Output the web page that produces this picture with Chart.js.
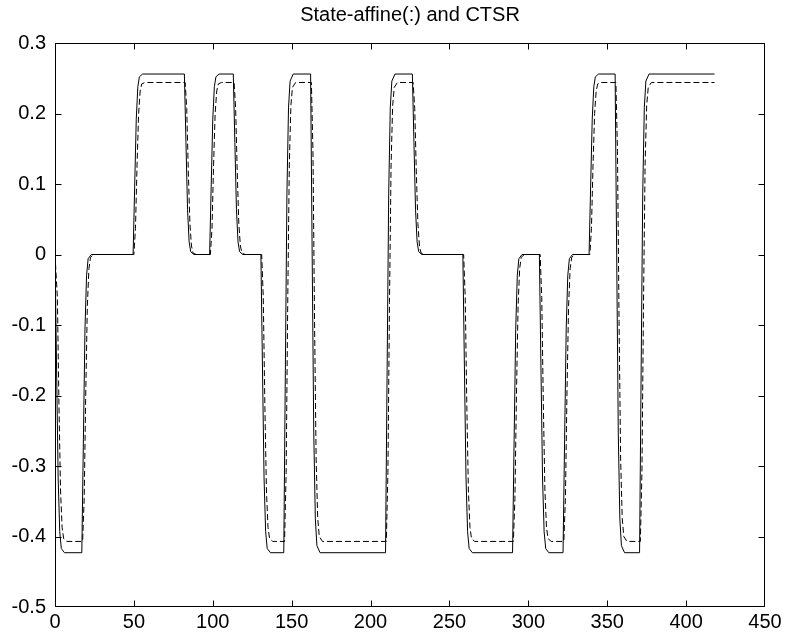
<!DOCTYPE html>
<html>
<head>
<meta charset="utf-8">
<title>State-affine(:) and CTSR</title>
<script src="https://cdn.jsdelivr.net/npm/chart.js@4.4.1/dist/chart.umd.min.js"></script>
<style>
  html, body { margin: 0; padding: 0; background: #fff; }
  #wrap { width: 789px; height: 637px; }
</style>
</head>
<body>
<div id="wrap"><canvas id="plot" width="789" height="637"></canvas></div>
<script>
// tick values
const xTicks = [0, 50, 100, 150, 200, 250, 300, 350, 400, 450];
const yTicks = [-0.5, -0.4, -0.3, -0.2, -0.1, 0, 0.1, 0.2, 0.3];
const yTickLabels = ['-0.5', '-0.4', '-0.3', '-0.2', '-0.1', '0', '0.1', '0.2', '0.3'];

// solid curve (CTSR), [t, value]
const solidPoints = [
    [0, 0], [1, -0.161], [2, -0.317], [3, -0.393], [4, -0.417], [6, -0.423],
    [17, -0.423], [18, -0.262], [19, -0.106], [20, -0.030], [21, -0.006], [23, 0],
    [49.5, 0], [50.5, 0.097], [51.5, 0.192], [52.5, 0.238], [53.5, 0.252], [55.5, 0.256],
    [82, 0.256], [83, 0.159], [84, 0.064], [85, 0.018], [86, 0.004], [88, 0],
    [98, 0], [99, 0.097], [100, 0.192], [101, 0.238], [102, 0.252], [104, 0.256],
    [113, 0.256], [114, 0.159], [115, 0.064], [116, 0.018], [117, 0.004], [119, 0],
    [130.5, 0], [131.5, -0.161], [132.5, -0.317], [133.5, -0.393], [134.5, -0.417], [136.5, -0.423],
    [145, -0.423], [146, -0.165], [147, 0.086], [148, 0.208], [149, 0.246], [151, 0.256],
    [162, 0.256], [163, -0.002], [164, -0.253], [165, -0.375], [166, -0.413], [168, -0.423],
    [209.5, -0.423], [210.5, -0.165], [211.5, 0.086], [212.5, 0.208], [213.5, 0.246], [215.5, 0.256],
    [226.5, 0.256], [227.5, 0.159], [228.5, 0.064], [229.5, 0.018], [230.5, 0.004], [232.5, 0],
    [258.5, 0], [259.5, -0.161], [260.5, -0.317], [261.5, -0.393], [262.5, -0.417], [264.5, -0.423],
    [290, -0.423], [291, -0.262], [292, -0.106], [293, -0.030], [294, -0.006], [296, 0],
    [307, 0], [308, -0.161], [309, -0.317], [310, -0.393], [311, -0.417], [313, -0.423],
    [322, -0.423], [323, -0.262], [324, -0.106], [325, -0.030], [326, -0.006], [328, 0],
    [338.5, 0], [339.5, 0.097], [340.5, 0.192], [341.5, 0.238], [342.5, 0.252], [344.5, 0.256],
    [355, 0.256], [356, -0.002], [357, -0.253], [358, -0.375], [359, -0.413], [361, -0.423],
    [370.5, -0.423], [371.5, -0.165], [372.5, 0.086], [373.5, 0.208], [374.5, 0.246], [376.5, 0.256],
    [418, 0.256]
];

// dashed curve (state-affine), [t, value]
const dashedPoints = [
    [0, 0], [1.5, -0.061], [2.5, -0.212], [3.5, -0.334], [4.5, -0.387], [5.5, -0.403], [7.5, -0.407],
    [17.5, -0.407], [18.5, -0.346], [19.5, -0.195], [20.5, -0.073], [21.5, -0.020], [22.5, -0.004], [24.5, 0],
    [50, 0], [51, 0.037], [52, 0.127], [53, 0.200], [54, 0.232], [55, 0.242], [57, 0.244],
    [82.5, 0.244], [83.5, 0.207], [84.5, 0.117], [85.5, 0.044], [86.5, 0.012], [87.5, 0.002], [89.5, 0],
    [98.5, 0], [99.5, 0.037], [100.5, 0.127], [101.5, 0.200], [102.5, 0.232], [103.5, 0.242], [105.5, 0.244],
    [113.5, 0.244], [114.5, 0.207], [115.5, 0.117], [116.5, 0.044], [117.5, 0.012], [118.5, 0.002], [120.5, 0],
    [131, 0], [132, -0.061], [133, -0.212], [134, -0.334], [135, -0.387], [136, -0.403], [138, -0.407],
    [145.5, -0.407], [146.5, -0.309], [147.5, -0.068], [148.5, 0.127], [149.5, 0.211], [150.5, 0.237], [152.5, 0.244],
    [162.5, 0.244], [163.5, 0.146], [164.5, -0.095], [165.5, -0.290], [166.5, -0.374], [167.5, -0.400], [169.5, -0.407],
    [210, -0.407], [211, -0.309], [212, -0.068], [213, 0.127], [214, 0.211], [215, 0.237], [217, 0.244],
    [227, 0.244], [228, 0.207], [229, 0.117], [230, 0.044], [231, 0.012], [232, 0.002], [234, 0],
    [259, 0], [260, -0.061], [261, -0.212], [262, -0.334], [263, -0.387], [264, -0.403], [266, -0.407],
    [290.5, -0.407], [291.5, -0.346], [292.5, -0.195], [293.5, -0.073], [294.5, -0.020], [295.5, -0.004], [297.5, 0],
    [307.5, 0], [308.5, -0.061], [309.5, -0.212], [310.5, -0.334], [311.5, -0.387], [312.5, -0.403], [314.5, -0.407],
    [322.5, -0.407], [323.5, -0.346], [324.5, -0.195], [325.5, -0.073], [326.5, -0.020], [327.5, -0.004], [329.5, 0],
    [339, 0], [340, 0.037], [341, 0.127], [342, 0.200], [343, 0.232], [344, 0.242], [346, 0.244],
    [355.5, 0.244], [356.5, 0.146], [357.5, -0.095], [358.5, -0.290], [359.5, -0.374], [360.5, -0.400], [362.5, -0.407],
    [371, -0.407], [372, -0.309], [373, -0.068], [374, 0.127], [375, 0.211], [376, 0.237], [378, 0.244],
    [418, 0.244]
];

const toXY = pts => pts.map(p => ({ x: p[0], y: p[1] }));

// matlab style box with ticks pointing inwards
const boxTicks = {
    id: 'boxTicks',
    afterDraw(chart) {
        const ctx = chart.ctx;
        const a = chart.chartArea;
        const xs = chart.scales.x;
        const ys = chart.scales.y;
        const len = 6;
        const l = Math.round(a.left) + 0.5, r = Math.round(a.right) - 0.5;
        const t = Math.round(a.top) + 0.5, b = Math.round(a.bottom) - 0.5;
        ctx.save();
        ctx.setLineDash([]);
        ctx.strokeStyle = '#000';
        ctx.lineWidth = 1;
        ctx.beginPath();
        ctx.moveTo(l, t); ctx.lineTo(r, t);
        ctx.lineTo(r, b); ctx.lineTo(l, b);
        ctx.closePath();
        xTicks.forEach(v => {
            const px = Math.min(Math.round(xs.getPixelForValue(v)) + 0.5, r);
            ctx.moveTo(px, b);
            ctx.lineTo(px, b - len);
            ctx.moveTo(px, t);
            ctx.lineTo(px, t + len);
        });
        yTicks.forEach(v => {
            const py = Math.min(Math.round(ys.getPixelForValue(v)) + 0.5, b);
            ctx.moveTo(l, py);
            ctx.lineTo(l + len, py);
            ctx.moveTo(r, py);
            ctx.lineTo(r - len, py);
        });
        ctx.stroke();
        ctx.restore();
    }
};

const font = { family: '"Liberation Sans", Arial, Helvetica, sans-serif', size: 20 };

new Chart(document.getElementById('plot').getContext('2d'), {
    type: 'line',
    data: {
        datasets: [{
            label: 'CTSR',
            data: toXY(solidPoints),
            borderColor: '#000',
            borderWidth: 1,
            pointRadius: 0,
            tension: 0,
            fill: false
        }, {
            label: 'State-affine',
            data: toXY(dashedPoints),
            borderColor: '#000',
            borderWidth: 1,
            borderDash: [6, 3],
            pointRadius: 0,
            tension: 0,
            fill: false
        }]
    },
    options: {
        responsive: false,
        animation: false,
        layout: { padding: { left: 0, right: 24, top: 0, bottom: 0 } },
        scales: {
            x: {
                type: 'linear',
                min: 0,
                max: 450,
                afterBuildTicks: s => { s.ticks = xTicks.map(v => ({ value: v })); },
                afterFit: s => { s.height = 30; },
                grid: { display: false, drawTicks: false },
                border: { display: false },
                ticks: { color: '#000', font: font, padding: 3, maxRotation: 0, autoSkip: false }
            },
            y: {
                type: 'linear',
                min: -0.5,
                max: 0.3,
                afterBuildTicks: s => { s.ticks = yTicks.map(v => ({ value: v })); },
                afterFit: s => { s.width = 55; },
                grid: { display: false, drawTicks: false },
                border: { display: false },
                ticks: {
                    color: '#000',
                    font: font,
                    padding: 9,
                    autoSkip: false,
                    callback: (v, i) => yTickLabels[i]
                }
            }
        },
        plugins: {
            legend: { display: false },
            tooltip: { enabled: false },
            title: {
                display: true,
                fullSize: false,
                text: 'State-affine(:) and CTSR',
                color: '#000',
                font: { family: font.family, size: 20, weight: 'normal' },
                padding: { top: 3, bottom: 16 }
            }
        }
    },
    plugins: [boxTicks]
});
</script>
</body>
</html>
